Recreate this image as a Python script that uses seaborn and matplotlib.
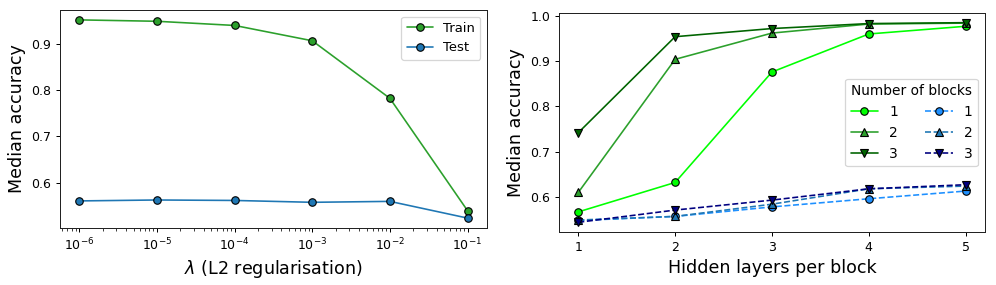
import matplotlib
matplotlib.use("Agg")
import matplotlib.pyplot as plt
import seaborn as sns
import pandas as pd

# left panel: regularisation sweep
lambdas = [1e-6, 1e-5, 1e-4, 1e-3, 1e-2, 1e-1]
reg_train = [0.951, 0.948, 0.939, 0.906, 0.782, 0.540]
reg_test = [0.561, 0.563, 0.562, 0.558, 0.560, 0.524]

# right panel: depth sweep
layers = [1, 2, 3, 4, 5]
blocks = [1, 2, 3]
depth_train = {
    1: [0.567, 0.632, 0.876, 0.960, 0.977],
    2: [0.610, 0.904, 0.962, 0.982, 0.984],
    3: [0.742, 0.954, 0.972, 0.983, 0.985],
}
depth_test = {
    1: [0.548, 0.557, 0.578, 0.596, 0.613],
    2: [0.549, 0.557, 0.584, 0.618, 0.624],
    3: [0.544, 0.571, 0.593, 0.618, 0.627],
}

train_colors = {1: "lime", 2: "#2ca02c", 3: "darkgreen"}
test_colors = {1: "dodgerblue", 2: "#1f77b4", 3: "navy"}
block_markers = {1: "o", 2: "^", 3: "v"}

sns.set_style("ticks", {"text.color": "black", "axes.labelcolor": "black",
                        "xtick.color": "black", "ytick.color": "black",
                        "axes.edgecolor": "#222222"})
plt.rcParams["font.family"] = ["DejaVu Sans"]

fig = plt.figure(figsize=(996 / 90, 285 / 90), dpi=90)
ax1 = fig.add_axes([0.0602, 0.2, 0.4287, 0.765])
ax2 = fig.add_axes([0.5612, 0.185, 0.4277, 0.7705])

line_kw = dict(markersize=6, markeredgecolor="k", markeredgewidth=0.9, linewidth=1.3)

# ---------------------------------------------------------
# Left: accuracy vs L2 strength
# ---------------------------------------------------------
df_reg = pd.DataFrame({"lam": lambdas, "Train": reg_train, "Test": reg_test})
for col, c in [("Train", "#2ca02c"), ("Test", "#1f77b4")]:
    sns.lineplot(data=df_reg, x="lam", y=col, ax=ax1, color=c, marker="o",
                 label=col, **line_kw)
ax1.set_xscale("log")
ax1.set_xlabel(r"$\lambda$ (L2 regularisation)", fontsize=14)
ax1.set_ylabel("Median accuracy", fontsize=14)
ax1.set_yticks([0.6, 0.7, 0.8, 0.9])
ax1.tick_params(labelsize=10)
ax1.legend(loc="upper right", fontsize=10.5)

# ---------------------------------------------------------
# Right: accuracy vs hidden layers per block
# ---------------------------------------------------------
for b in blocks:
    sns.lineplot(x=layers, y=depth_train[b], ax=ax2, color=train_colors[b],
                 marker=block_markers[b], label=str(b), **line_kw)
for b in blocks:
    sns.lineplot(x=layers, y=depth_test[b], ax=ax2, color=test_colors[b],
                 marker=block_markers[b], linestyle="--", label=str(b), **line_kw)
ax2.set_xticks(layers)
ax2.set_yticks([0.6, 0.7, 0.8, 0.9, 1.0])
ax2.set_xlabel("Hidden layers per block", fontsize=14)
ax2.set_ylabel("Median accuracy", fontsize=14)
ax2.tick_params(labelsize=10)
ax2.legend(title="Number of blocks", ncol=2, loc="center right",
           fontsize=11, title_fontsize=11)

plt.savefig("out.png", dpi=90)
